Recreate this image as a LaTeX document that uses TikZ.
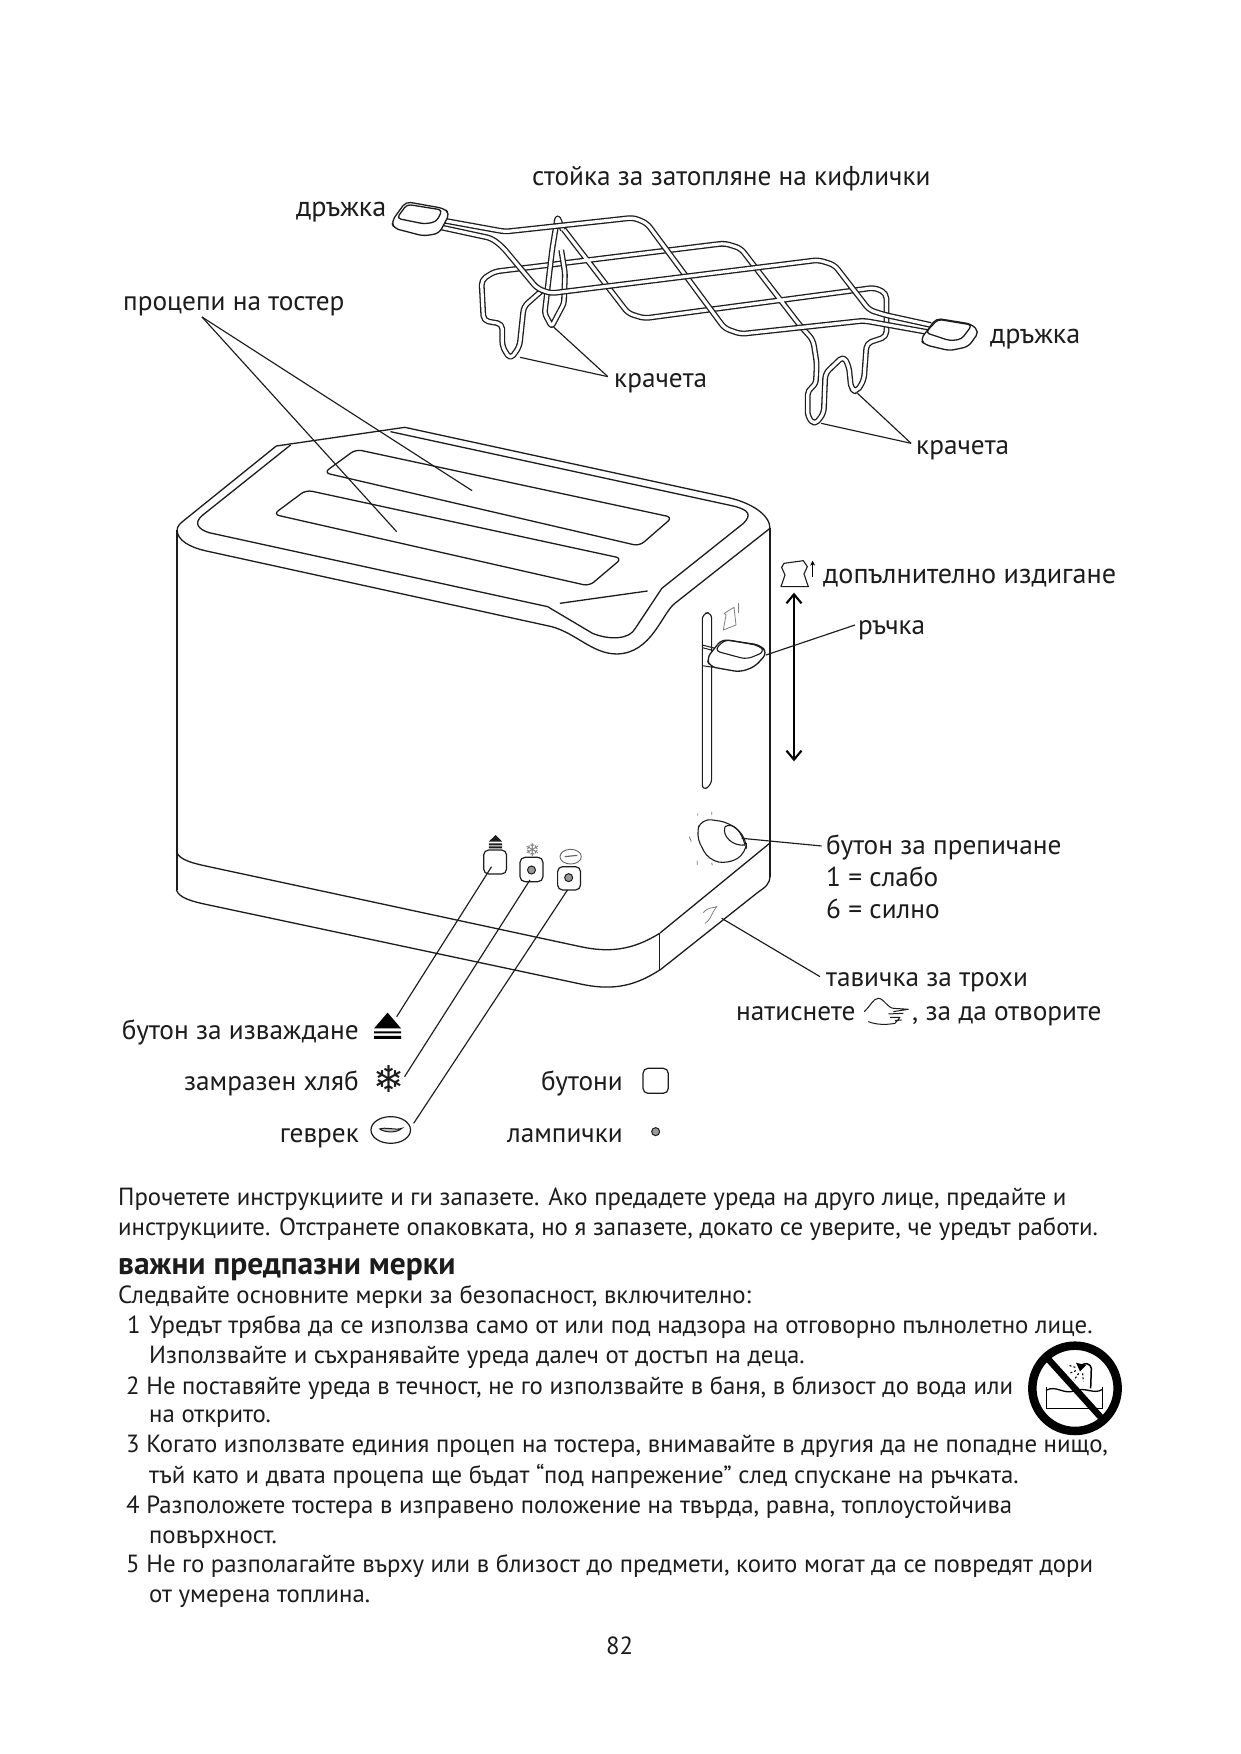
\documentclass[tikz,border=0pt]{standalone}
\usepackage{fontspec}
\setmainfont{PT Sans}
\newfontfamily\symfont{DejaVu Sans}
\usetikzlibrary{arrows.meta}
\definecolor{ink}{HTML}{1C1C1C}
\tikzset{
 frameA/.style={shift={(280,150)},x=.5357pt,y=-.3333pt},
 frameB/.style={shift={(160,420)},x=.408pt,y=-.3333pt},
 frameC/.style={shift={(680,550)},x=.3333pt,y=-.3333pt},
 frameD/.style={shift={(110,820)},x=.3954pt,y=-.3333pt},
 frameE/.style={shift={(1000,1320)},x=.3333pt,y=-.3333pt},
 outline/.style={draw=ink,line width=1.3pt,line join=round},
 leader/.style={draw=ink,line width=1.15pt},
 wire/.style={draw=ink,line width=1.3pt,double=white,double distance=3.2pt,rounded corners=5pt,line join=round},
 grip/.style={outline,fill=white,rounded corners=5pt},
 lbl/.style={inner sep=0pt,text=ink,font=\fontsize{27.3}{27.3}\selectfont},
 lblw/.style={lbl,anchor=base west},
 lble/.style={lbl,anchor=base east},
 wider/.style={font=\fontsize{28.2}{28.2}\selectfont},
 body/.style={inner sep=0pt,anchor=base west,text=ink,font=\fontsize{24.8}{24.8}\selectfont},
 lamp/.style={draw=ink,line width=1pt,fill=gray!80,circle,inner sep=0pt,minimum size=#1},
 btn/.style={draw=ink,line width=1.2pt,rounded corners=5pt,fill=white},
}
\begin{document}
\begin{tikzpicture}[x=1pt,y=-1pt]
\useasboundingbox (0,0) rectangle (1241,1754);
\fill[white] (0,0) rectangle (1241,1754);

% ---------- rack ----------
\begin{scope}[frameA]
 % frame with the feet
 \draw[wire] (490,420) -- (455,470) -- (447,590) -- (430,628) -- (415,590) -- (415,522) -- (380,512) -- (376,390) -- (400,365) -- (830,280) -- (860,295) -- (970,525) -- (995,570) -- (1002,640) -- (1000,705) -- (985,720) -- (985,800) -- (998,825) -- (1015,790) -- (1018,670) -- (1052,618) -- (1062,650) -- (1066,715) -- (1076,727) -- (1090,690) -- (1095,580) -- (1132,560) -- (1132,430) -- (1110,413) -- (680,505) -- (650,490) -- (528,235);
 \draw[wire,rounded corners=3pt] (528,240) -- (518,200) -- (508,300) -- (494,490) -- (507,530) -- (530,460) -- (532,370) -- (525,300);
 % main loop
 \draw[wire] (300,210) -- (420,245) -- (660,203) -- (685,220) -- (830,535) -- (860,552) -- (1090,512) -- (1215,548);
 \draw[wire] (300,232) -- (395,265) -- (415,290) -- (480,415) -- (505,430) -- (1005,330) -- (1035,345) -- (1100,480) -- (1130,495) -- (1215,525);
 % grips
 \path[grip] (208,215) -- (235,155) -- (305,175) -- (317,190) -- (297,250) -- (268,258) -- (213,235) -- cycle;
 \draw[outline,rounded corners=4pt] (218,205) -- (237,163) -- (303,180) -- (292,215) -- (270,222) -- cycle;
 \path[grip] (1195,570) -- (1225,505) -- (1290,522) -- (1305,545) -- (1285,590) -- (1250,602) -- (1205,585) -- cycle;
 \draw[outline,rounded corners=4pt] (1205,548) -- (1228,508) -- (1292,525) -- (1272,568) -- (1250,572) -- cycle;
 \coordinate (footA) at (448,622);
 \coordinate (footB) at (510,530);
 \coordinate (footC) at (1010,820);
 \coordinate (footD) at (1078,730);
 \coordinate (kneeA) at (612,680);
 \coordinate (kneeB) at (1178,880);
\end{scope}

% ---------- toaster ----------
\begin{scope}[frameB]
 \draw[outline] (42,330) .. controls (42,318) and (50,310) .. (60,300) -- (285,78) -- (600,22) -- (1390,232) .. controls (1450,248) and (1495,285) .. (1495,325);
 \draw[outline] (1495,325) -- (1262,550) .. controls (1230,580) and (1205,700) .. (1120,702) .. controls (1060,702) and (1020,640) .. (960,620) -- (110,392) .. controls (75,382) and (42,362) .. (42,330);
 \draw[outline] (320,75) -- (105,285) .. controls (80,310) and (95,328) .. (120,338) -- (950,560) -- (1060,640) .. controls (1100,660) and (1150,660) .. (1165,625) -- (1230,505) -- (1430,310) .. controls (1450,285) and (1445,270) .. (1405,258) -- (565,35);
 \draw[outline] (980,550) -- (1195,513);
 \draw[outline,rounded corners=6pt] (402,158) -- (480,88) -- (1256,292) -- (1175,378) -- cycle;
 \draw[outline,rounded corners=6pt] (278,283) -- (358,210) -- (1132,415) -- (1052,498) -- cycle;
 \coordinate (slotA) at (765,212);
 \coordinate (slotB) at (580,335);
\end{scope}
\draw[outline] (177,530) -- (177,890);
\draw[outline] (770,528) -- (770,877);
\begin{scope}[frameD]
 \draw[outline] (168,95) .. controls (175,120) and (210,130) .. (250,140) -- (1190,380) .. controls (1260,398) and (1320,392) .. (1390,340);
 \draw[outline] (168,210) .. controls (175,235) and (210,245) .. (250,255) -- (1190,492) .. controls (1260,510) and (1320,505) .. (1390,450);
 \draw[outline] (1390,340) -- (1390,450);
\end{scope}
\draw[outline] (660,933) -- (770,843);
\draw[outline] (660,970) -- (757,893) .. controls (765,887) and (770,885) .. (770,875);

% handle, slot, knob
\begin{scope}[frameC]
 \draw[outline,line width=1.1pt,rounded corners=6pt] (67,500) -- (67,190) -- (95,187) -- (95,705) -- (67,722) -- cycle;
 \draw[outline,line width=1pt] (67,285) -- (105,295) (67,293) -- (105,303);
 \draw[outline,line width=1pt] (67,347) -- (100,352);
 \path[grip,rounded corners=6pt] (80,325) -- (125,268) -- (240,285) -- (262,308) -- (225,350) -- (180,366) -- (90,350) -- cycle;
 \draw[outline,line width=1.1pt,rounded corners=6pt] (103,302) -- (135,268) -- (238,287) -- (255,305) -- (200,328) -- cycle;
 \coordinate (gripR) at (258,315);
 \coordinate (gripL) at (525,225);
 % small toast icon
 \draw[draw=gray,line width=.8pt] (130,240) -- (138,195) -- (133,190) -- (162,172) -- (168,225) -- cycle;
 \draw[draw=gray,line width=.8pt] (175,190) -- (175,158);
 % big arrow
 \coordinate (arrTop) at (342,128);
 \coordinate (arrBot) at (342,634);
 \draw[draw=black,line width=2.1pt,{Straight Barb[length=9pt,width=15pt]}-{Straight Barb[length=9pt,width=15pt]}] (arrTop) -- (arrBot);
 % big toast icon
 \draw[outline,line width=1.1pt] (303,110) -- (385,110) -- (372,72) -- (382,50) -- (370,32) -- (312,40) -- (305,52) -- (315,75) -- cycle;
 \draw[draw=black,line width=1.3pt,-{Stealth[length=5pt,width=5pt]}] (398,82) -- (398,32);
 % knob
 \draw[outline,line width=1.1pt,rounded corners=10pt] (47,855) -- (65,805) -- (150,818) -- (200,865) -- (198,910) -- (145,942) -- (85,930) -- cycle;
 \draw[outline,line width=1.1pt] (135,830) .. controls (125,860) and (160,890) .. (195,885);
 \draw[outline,line width=1.1pt] (135,830) .. controls (160,815) and (185,845) .. (195,885);
 \draw[draw=gray,line width=.8pt] (53,790) -- (53,797) (95,785) -- (95,795) (28,860) -- (34,875) (52,932) -- (52,945) (95,938) -- (97,946);
 \coordinate (knobC) at (185,865);
 \coordinate (knobL) at (425,888);
 % crumb tray
 \coordinate (trayA) at (125,1105);
 \coordinate (trayB) at (420,1280);
 \draw[draw=gray,line width=.8pt] (70,1088) .. controls (85,1070) and (100,1075) .. (110,1070) -- (100,1085) .. controls (92,1100) and (90,1110) .. (75,1120);
 % hand icon
 \draw[outline,line width=1pt] (553,1385) .. controls (570,1370) and (580,1345) .. (595,1345) .. controls (610,1345) and (625,1375) .. (640,1375) -- (685,1378) -- (640,1385);
 \draw[outline,line width=1pt] (565,1415) .. controls (590,1425) and (620,1425) .. (645,1420) -- (660,1402) -- (630,1402) (670,1390) -- (625,1392) (645,1412) -- (665,1410);
\end{scope}

% ---------- buttons ----------
\begin{scope}[frameD]
 \path[btn] (945,90) rectangle (1003,162);
 \path[btn] (1037,112) rectangle (1095,185);
 \path[btn] (1132,140) rectangle (1190,210);
 \node[lamp=8pt] (lampA) at (1066,150) {};
 \node[lamp=8pt] (lampB) at (1160,173) {};
 \node[lamp=8pt] (lampLegend) at (1380,935) {};
 % small icons
 \fill[ink] (975,45) -- (958,65) -- (992,65) -- cycle;
 \fill[ink] (958,70) rectangle (992,76) (958,79) rectangle (992,85);
 \node[inner sep=0pt,text=gray] (flakeSmall) at (1068,90) {\symfont\fontsize{18}{18}\selectfont ❄};
 \draw[draw=gray!80!black,line width=.9pt] (1165,110) ellipse [x radius=27,y radius=22];
 \draw[draw=gray!80!black,line width=1.2pt] (1150,110) -- (1182,106);
 % large icons
 \fill[black] (702,578) -- (668,625) -- (736,625) -- cycle;
 \fill[black] (668,634) rectangle (736,640) (668,648) rectangle (736,657);
 \node[inner sep=0pt,text=ink] (flake) at (706,778) {\symfont\fontsize{37}{37}\selectfont ❄};
 \draw[draw=ink,line width=1.2pt] (710,930) ellipse [x radius=50,y radius=40];
 \draw[draw=ink,line width=1pt,fill=gray!50] (682,927) .. controls (695,920) and (725,932) .. (738,925) .. controls (725,940) and (695,938) .. (682,927) -- cycle;
 \path[btn] (1348,745) rectangle (1412,820);
 \coordinate (ejectBtn) at (965,140);
 \coordinate (ejectIcon) at (725,590);
 \coordinate (frozenBtn) at (1062,180);
 \coordinate (frozenIcon) at (745,770);
 \coordinate (bagelBtn) at (1157,210);
 \coordinate (bagelIcon) at (768,910);
\end{scope}

% ---------- leader lines ----------
\coordinate (slotApex) at (202,317);
\path[leader] (slotApex) -- (slotA);
\path[leader] (slotApex) -- (slotB);
\path[leader] (footA) -- (kneeA);
\path[leader] (footB) -- (kneeA);
\path[leader] (footC) -- (kneeB);
\path[leader] (footD) -- (kneeB);
\path[leader] (gripR) -- (gripL);
\path[leader] (knobC) -- (knobL);
\path[leader] (trayA) -- (trayB);
\path[leader] (ejectBtn) -- (ejectIcon);
\path[leader] (frozenBtn) -- (frozenIcon);
\path[leader] (bagelBtn) -- (bagelIcon);

% ---------- labels ----------
\node[lblw] (tRack) at (532,185) {стойка за затопляне на кифлички};
\node[lblw,wider] (tGripA) at (296,216) {дръжка};
\node[lblw,wider] (tGripB) at (990,343) {дръжка};
\node[lblw] (tLegsA) at (614,387) {крачета};
\node[lblw] (tLegsB) at (916,454) {крачета};
\node[lblw] (tSlots) at (123,310) {процепи на тостер};
\node[lblw,wider] (tLift) at (823,583) {допълнително издигане};
\node[lblw] (tLever) at (858,634) {ръчка};
\node[lblw] (tKnob) at (826,854) {бутон за препичане};
\node[lblw] (tLow) at (826,886) {1 = слабо};
\node[lblw] (tHigh) at (826,918) {6 = силно};
\node[lblw] (tTray) at (826,986) {тавичка за трохи};
\node[lblw] (tPress) at (736,1020) {натиснете};
\node[lblw] (tOpen) at (912,1020) {, за да отворите};
\node[lble] (tEject) at (359,1039) {бутон за изваждане};
\node[lble] (tFrozen) at (359,1090) {замразен хляб};
\node[lble] (tBagel) at (359,1142) {геврек};
\node[lble] (tBtns) at (623,1090) {бутони};
\node[lble] (tLamps) at (623,1142) {лампички};

% ---------- body text ----------
\node[body] (l1) at (118,1205) {Прочетете инструкциите и ги запазете. Ако предадете уреда на друго лице, предайте и};
\node[body] (l2) at (118,1235) {инструкциите. Отстранете опаковката, но я запазете, докато се уверите, че уредът работи.};
\node[body,font=\fontsize{31.5}{31.5}\selectfont\bfseries] (l3) at (118,1274) {важни предпазни мерки};
\node[body] (l4) at (118,1303) {Следвайте основните мерки за безопасност, включително:};
\node[body] (l5) at (127,1333) {1};
\node[body] (l5b) at (149,1333) {Уредът трябва да се използва само от или под надзора на отговорно пълнолетно лице.};
\node[body] (l6) at (149,1363) {Използвайте и съхранявайте уреда далеч от достъп на деца.};
\node[body] (l7) at (126,1394) {2 Не поставяйте уреда в течност, не го използвайте в баня, в близост до вода или};
\node[body] (l8) at (149,1422) {на открито.};
\node[body] (l9) at (126,1452) {3 Когато използвате единия процеп на тостера, внимавайте в другия да не попадне нищо,};
\node[body] (l10) at (149,1483) {тъй като и двата процепа ще бъдат “под напрежение” след спускане на ръчката.};
\node[body] (l11) at (126,1513) {4 Разположете тостера в изправено положение на твърда, равна, топлоустойчива};
\node[body] (l12) at (149,1543) {повърхност.};
\node[body] (l13) at (126,1572) {5 Не го разполагайте върху или в близост до предмети, които могат да се повредят дори};
\node[body] (l14) at (149,1602) {от умерена топлина.};
\node[body] (page) at (606,1654) {82};

% ---------- no-bath sign ----------
\begin{scope}[frameE]
 \draw[draw=black,line width=8.5pt] (225,205) circle [radius=128];
 \draw[draw=black,line width=1.3pt] (140,200) -- (140,265) -- (308,265) -- (308,200);
 \draw[draw=black,line width=1.3pt] (140,210) .. controls (170,195) and (190,225) .. (225,212) .. controls (260,200) and (280,225) .. (308,208);
 \draw[draw=black,line width=1.5pt] (272,205) -- (274,145) .. controls (272,130) and (255,128) .. (245,135);
 \fill[black] (228,128) -- (258,136) -- (240,154) -- cycle;
 \draw[draw=black,line width=1.1pt,dash pattern=on 2pt off 2pt] (226,142) -- (203,135) (228,152) -- (208,160) (236,160) -- (222,180) (248,160) -- (250,185);
 \draw[draw=black,line width=6.5pt] (140,112) -- (308,298);
\end{scope}
\end{tikzpicture}
\end{document}
